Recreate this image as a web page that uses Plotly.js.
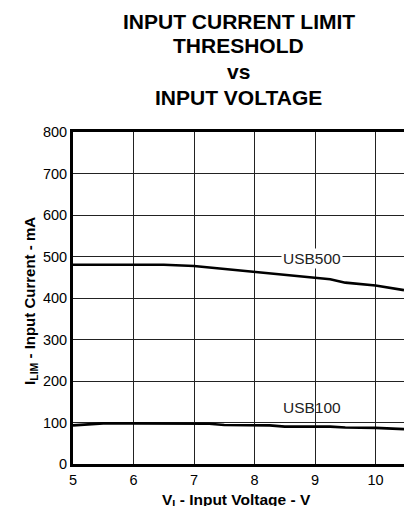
<!DOCTYPE html>
<html>
<head>
<meta charset="utf-8">
<script src="https://cdn.plot.ly/plotly-3.0.1.min.js"></script>
<style>html,body{margin:0;padding:0;background:#fff;}#chart{width:404px;height:506px;}</style>
</head>
<body>
<div id="chart"></div>
<script>
const voltage500 = [5, 5.5, 6, 6.5, 7, 7.5, 8, 8.5, 9, 9.25, 9.5, 10, 10.47];
const usb500 = [480, 480, 480, 480, 477, 470, 463, 457, 449, 445, 437, 430, 419];
const voltage100 = [5, 5.5, 6, 6.5, 7, 7.25, 7.5, 8, 8.25, 8.5, 9, 9.25, 9.5, 10, 10.47];
const usb100 = [93, 98, 98, 98, 98, 97, 94, 94, 93, 90, 90, 90, 88, 87, 84];
const xTicks = [5, 6, 7, 8, 9, 10];
const yTicks = [0, 100, 200, 300, 400, 500, 600, 700, 800];
const seriesLabels = ['USB500', 'USB100'];
const titleLines = ['INPUT CURRENT LIMIT', 'THRESHOLD', 'vs', 'INPUT VOLTAGE'];

const F = 'Liberation Sans, Arial, sans-serif';
const traces = [
  {x: voltage500, y: usb500, mode: 'lines', line: {color: '#000', width: 2.6}, name: seriesLabels[0], hoverinfo: 'skip'},
  {x: voltage100, y: usb100, mode: 'lines', line: {color: '#000', width: 2.6}, name: seriesLabels[1], hoverinfo: 'skip'}
];
const titleY = [1.334, 1.2605, 1.181, 1.1045];
const annotations = titleLines.map((t, i) => ({
  text: '<b>' + t + '</b>', xref: 'paper', yref: 'paper', x: 0.5, y: titleY[i],
  xanchor: 'center', yanchor: 'middle', showarrow: false, font: {family: F, size: 21, color: '#000'}
}));
annotations.push({text: seriesLabels[0], xref: 'x', yref: 'y', x: 8.95, y: 496, xanchor: 'center', yanchor: 'middle',
  showarrow: false, bgcolor: '#fff', font: {family: F, size: 15.5, color: '#222'}});
annotations.push({text: seriesLabels[1], xref: 'x', yref: 'y', x: 8.95, y: 137, xanchor: 'center', yanchor: 'middle',
  showarrow: false, font: {family: F, size: 15.5, color: '#222'}});
annotations.push({text: '<b>V<sub>I</sub> - Input Voltage - V</b>', xref: 'paper', yref: 'paper', x: 0.495, y: -0.11,
  xanchor: 'center', yanchor: 'middle', showarrow: false, font: {family: F, size: 15.5, color: '#000'}});
annotations.push({text: '<b>I<sub>LIM</sub> - Input Current - mA</b>', xref: 'paper', yref: 'paper', x: -0.127, y: 0.491,
  xanchor: 'center', yanchor: 'middle', textangle: -90, showarrow: false, font: {family: F, size: 15, color: '#000'}});

const layout = {
  width: 404, height: 506,
  margin: {l: 73, r: 0, t: 132, b: 42, pad: 0},
  paper_bgcolor: '#fff', plot_bgcolor: '#fff',
  showlegend: false,
  xaxis: {range: [5, 10.47], tickvals: xTicks, ticktext: xTicks.map(String), showgrid: true, gridcolor: '#222', gridwidth: 1,
    zeroline: false, showline: true, linecolor: '#000', linewidth: 3, mirror: true, ticks: '', ticklabelstandoff: 1,
    tickfont: {family: F, size: 14.5, color: '#000'}, fixedrange: true},
  yaxis: {range: [0, 800], tickvals: yTicks, ticktext: yTicks.map(String), showgrid: true, gridcolor: '#222', gridwidth: 1,
    zeroline: false, showline: true, linecolor: '#000', linewidth: 3, mirror: false, ticks: '', ticklabelstandoff: 0,
    tickfont: {family: F, size: 14.5, color: '#000'}, fixedrange: true},
  annotations: annotations
};
Plotly.newPlot('chart', traces, layout, {displayModeBar: false, staticPlot: true});
</script>
</body>
</html>
